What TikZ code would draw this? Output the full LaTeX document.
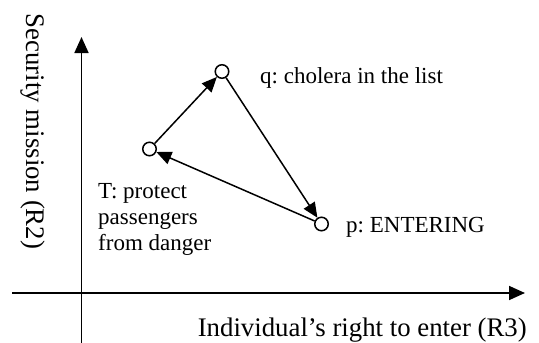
\documentclass[tikz,border=0pt]{standalone}
\usepackage{fontspec}
\setmainfont{Liberation Serif}
\usetikzlibrary{arrows.meta}
\frenchspacing
\begin{document}
\begin{tikzpicture}[x=1pt,y=-1pt,
  pt/.style={circle,draw,fill=white,line width=1.5pt,minimum size=13.5pt,inner sep=0pt},
  conn/.style={line width=1.5pt,-{Triangle[length=15pt,width=13pt]}},
  axis/.style={line width=1.8pt,-{Triangle[length=16pt,width=14pt]}},
  lbl/.style={font=\fontsize{23}{26}\selectfont,inner sep=0pt,anchor=base west},
  axlbl/.style={font=\fontsize{26.8}{30}\selectfont,inner sep=0pt}]
\useasboundingbox (0,0) rectangle (539,343);
\coordinate (xs) at (12,293);
\coordinate (xe) at (525,293);
\coordinate (ys) at (81.5,343);
\coordinate (ye) at (81.5,37);
\draw[axis] (xs) -- (xe);
\draw[axis] (ys) -- (ye);
\node[pt] (T) at (149.5,149) {};
\node[pt] (q) at (222,71.5) {};
\node[pt] (p) at (321.5,224) {};
\draw[conn] (T) -- (q);
\draw[conn] (q) -- (p);
\draw[conn] (p) -- (T);
\node[lbl] (ql) at (260,83) {q: cholera in the list};
\node[lbl] (pl) at (346,232) {p: ENTERING};
\node[lbl] (tl1) at (98,198) {T: protect};
\node[lbl] (tl2) at (98,224) {passengers};
\node[lbl] (tl3) at (98,250) {from danger};
\node[axlbl,anchor=base east] (xl) at (527,336) {Individual’s right to enter (R3)};
\node[axlbl,anchor=base,rotate=-90] (yl) at (27,131.5) {Security mission (R2)};
\end{tikzpicture}
\end{document}
